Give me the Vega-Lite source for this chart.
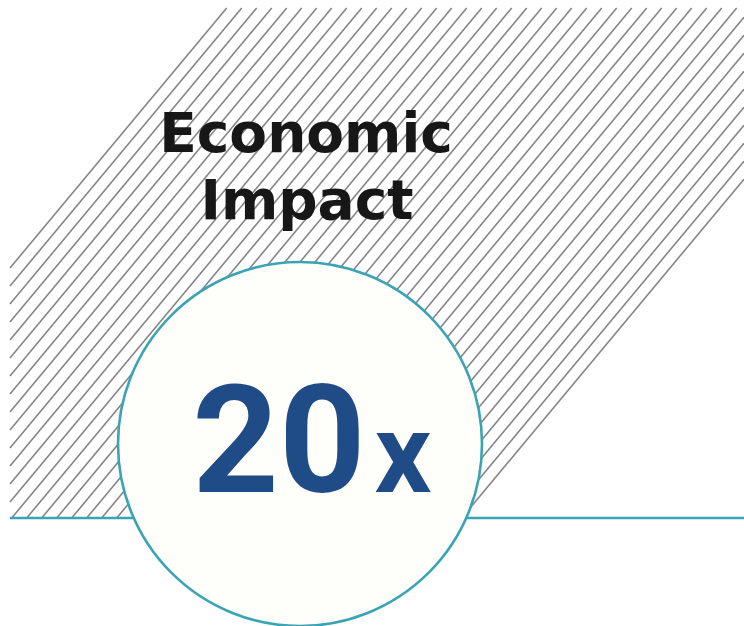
{
  "$schema": "https://vega.github.io/schema/vega-lite/v6.json",
  "width": 744,
  "height": 626,
  "padding": 0,
  "autosize": {"type": "none"},
  "background": "#ffffff",
  "config": {"view": {"stroke": null}, "axis": {"disable": true}},
  "datasets": {
    "hatch": [
      {"x": 226.7, "y": 8, "x2": 10, "y2": 268},
      {"x": 241.7, "y": 8, "x2": 10, "y2": 286},
      {"x": 256.7, "y": 8, "x2": 10, "y2": 304},
      {"x": 271.7, "y": 8, "x2": 10, "y2": 322},
      {"x": 286.7, "y": 8, "x2": 10, "y2": 340},
      {"x": 301.7, "y": 8, "x2": 10, "y2": 358},
      {"x": 316.7, "y": 8, "x2": 10, "y2": 376},
      {"x": 331.7, "y": 8, "x2": 10, "y2": 394},
      {"x": 346.7, "y": 8, "x2": 10, "y2": 412},
      {"x": 361.7, "y": 8, "x2": 10, "y2": 430},
      {"x": 376.7, "y": 8, "x2": 10, "y2": 448},
      {"x": 391.7, "y": 8, "x2": 10, "y2": 466},
      {"x": 406.7, "y": 8, "x2": 10, "y2": 484},
      {"x": 421.7, "y": 8, "x2": 10, "y2": 502},
      {"x": 436.7, "y": 8, "x2": 11.7, "y2": 518},
      {"x": 451.7, "y": 8, "x2": 26.7, "y2": 518},
      {"x": 466.7, "y": 8, "x2": 41.7, "y2": 518},
      {"x": 481.7, "y": 8, "x2": 56.7, "y2": 518},
      {"x": 496.7, "y": 8, "x2": 71.7, "y2": 518},
      {"x": 511.7, "y": 8, "x2": 86.7, "y2": 518},
      {"x": 526.7, "y": 8, "x2": 101.7, "y2": 518},
      {"x": 541.7, "y": 8, "x2": 116.7, "y2": 518},
      {"x": 556.7, "y": 8, "x2": 131.7, "y2": 518},
      {"x": 571.7, "y": 8, "x2": 146.7, "y2": 518},
      {"x": 586.7, "y": 8, "x2": 161.7, "y2": 518},
      {"x": 601.7, "y": 8, "x2": 176.7, "y2": 518},
      {"x": 616.7, "y": 8, "x2": 191.7, "y2": 518},
      {"x": 631.7, "y": 8, "x2": 206.7, "y2": 518},
      {"x": 646.7, "y": 8, "x2": 221.7, "y2": 518},
      {"x": 661.7, "y": 8, "x2": 236.7, "y2": 518},
      {"x": 676.7, "y": 8, "x2": 251.7, "y2": 518},
      {"x": 691.7, "y": 8, "x2": 266.7, "y2": 518},
      {"x": 706.7, "y": 8, "x2": 281.7, "y2": 518},
      {"x": 721.7, "y": 8, "x2": 296.7, "y2": 518},
      {"x": 736.7, "y": 8, "x2": 311.7, "y2": 518},
      {"x": 744, "y": 17.2, "x2": 326.7, "y2": 518},
      {"x": 744, "y": 35.2, "x2": 341.7, "y2": 518},
      {"x": 744, "y": 53.2, "x2": 356.7, "y2": 518},
      {"x": 744, "y": 71.2, "x2": 371.7, "y2": 518},
      {"x": 744, "y": 89.2, "x2": 386.7, "y2": 518},
      {"x": 744, "y": 107.2, "x2": 401.7, "y2": 518},
      {"x": 744, "y": 125.2, "x2": 416.7, "y2": 518},
      {"x": 744, "y": 143.2, "x2": 431.7, "y2": 518},
      {"x": 744, "y": 161.2, "x2": 446.7, "y2": 518},
      {"x": 744, "y": 179.2, "x2": 461.7, "y2": 518}
    ],
    "baseline": [{"x": 10, "x2": 744, "y": 518}],
    "circle": [{"x": 300, "y": 444}],
    "title": [
      {"t": "Economic", "x": 306, "y": 152},
      {"t": "Impact", "x": 307, "y": 219}
    ],
    "big": [{"t": "20", "x": 279, "y": 492}],
    "small": [{"t": "x", "x": 403, "y": 492}]
  },
  "layer": [
    {
      "data": {"name": "hatch"},
      "mark": {"type": "rule", "color": "#858585", "strokeWidth": 1.6},
      "encoding": {
        "x": {"field": "x", "type": "quantitative", "scale": {"domain": [0, 744], "nice": false, "zero": false}},
        "y": {"field": "y", "type": "quantitative", "scale": {"domain": [0, 626], "nice": false, "zero": false, "reverse": true}},
        "x2": {"field": "x2"},
        "y2": {"field": "y2"}
      }
    },
    {
      "data": {"name": "baseline"},
      "mark": {"type": "rule", "color": "#3aa4b4", "strokeWidth": 2.6},
      "encoding": {
        "x": {"field": "x", "type": "quantitative"},
        "x2": {"field": "x2"},
        "y": {"field": "y", "type": "quantitative"}
      }
    },
    {
      "data": {"name": "circle"},
      "mark": {"type": "point", "shape": "circle", "filled": true, "fill": "#fefefb", "stroke": "#3aa4b4", "strokeWidth": 2.6, "opacity": 1, "fillOpacity": 1, "size": 132496},
      "encoding": {
        "x": {"field": "x", "type": "quantitative"},
        "y": {"field": "y", "type": "quantitative"}
      }
    },
    {
      "data": {"name": "title"},
      "mark": {"type": "text", "font": "DejaVu Sans", "fontWeight": "bold", "fontSize": 55, "color": "#171717", "align": "center", "baseline": "alphabetic"},
      "encoding": {
        "x": {"field": "x", "type": "quantitative"},
        "y": {"field": "y", "type": "quantitative"},
        "text": {"field": "t"}
      }
    },
    {
      "data": {"name": "big"},
      "mark": {"type": "text", "font": "Roboto", "fontWeight": "bold", "fontSize": 151, "color": "#1f4b87", "align": "center", "baseline": "alphabetic"},
      "encoding": {
        "x": {"field": "x", "type": "quantitative"},
        "y": {"field": "y", "type": "quantitative"},
        "text": {"field": "t"}
      }
    },
    {
      "data": {"name": "small"},
      "mark": {"type": "text", "font": "Roboto", "fontWeight": "bold", "fontSize": 112, "color": "#1f4b87", "align": "center", "baseline": "alphabetic"},
      "encoding": {
        "x": {"field": "x", "type": "quantitative"},
        "y": {"field": "y", "type": "quantitative"},
        "text": {"field": "t"}
      }
    }
  ]
}
